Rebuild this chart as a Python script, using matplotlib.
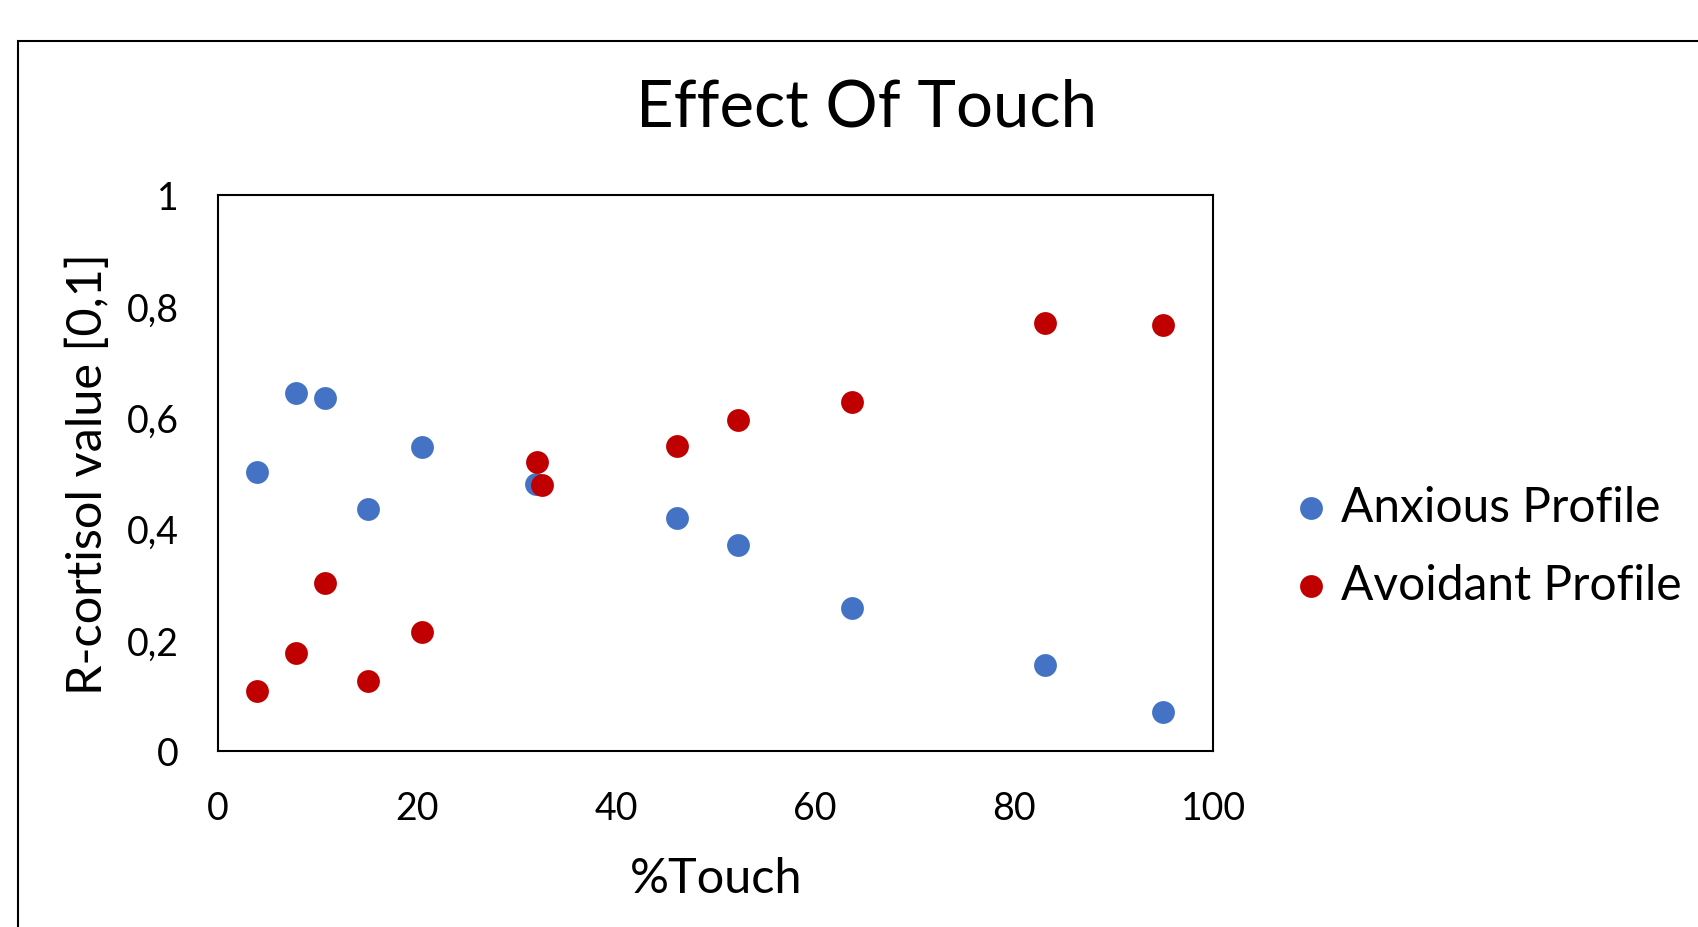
import numpy as np
import matplotlib.pyplot as plt
from matplotlib.patches import Rectangle
from matplotlib.ticker import FuncFormatter

plt.rcParams['font.family'] = ['Lato', 'DejaVu Sans']

# data
anx_x = [3.9, 7.8, 10.8, 15.1, 20.5, 31.9, 46.1, 52.2, 63.7, 83.1, 94.9]
anx_y = [0.501, 0.643, 0.635, 0.435, 0.546, 0.480, 0.419, 0.370, 0.257, 0.154, 0.070]
avo_x = [3.9, 7.8, 10.8, 15.1, 20.5, 32.0, 32.6, 46.1, 52.2, 63.7, 83.1, 94.9]
avo_y = [0.107, 0.177, 0.302, 0.125, 0.214, 0.519, 0.478, 0.548, 0.596, 0.628, 0.770, 0.766]
x_ticks = [0, 20, 40, 60, 80, 100]
y_ticks = [0, 0.2, 0.4, 0.6, 0.8, 1]

fig = plt.figure(figsize=(16.99, 9.28), dpi=100)
ax = fig.add_axes([0.1283, 0.1897, 0.5859, 0.5991])

ax.scatter(anx_x, anx_y, s=270, color='#4472C4', label='Anxious Profile', zorder=3, linewidths=0)
ax.scatter(avo_x, avo_y, s=270, color='#C00000', label='Avoidant Profile', zorder=3, linewidths=0)

ax.set_xlim(0, 100)
ax.set_ylim(0, 1)
ax.set_xticks(x_ticks)
ax.set_yticks(y_ticks)
ax.yaxis.set_major_formatter(FuncFormatter(lambda v, p: ('%g' % v).replace('.', ',')))
ax.tick_params(length=0, labelsize=27, pad=28)
for s in ax.spines.values():
    s.set_linewidth(1.5)

ax.set_xlabel('%Touch', fontsize=35, labelpad=22)
ax.set_ylabel('R-cortisol value [0,1]', fontsize=35, labelpad=12)

fig.text(0.51, 0.884, 'Effect Of Touch', fontsize=47, ha='center', va='center')

leg = ax.legend(loc='center left', bbox_to_anchor=(1.084, 0.369), frameon=False,
                fontsize=34.5, handletextpad=0.31, handlelength=0.6, labelspacing=0.71,
                borderpad=0, borderaxespad=0, markerscale=1)

# outer chart-area border
fig.patches.append(Rectangle((18 / 1699, -0.1), 1.2, 1 - 42 / 928 + 0.1,
                             transform=fig.transFigure, fill=False,
                             edgecolor='black', linewidth=1.5, clip_on=False))

fig.savefig('out.png', dpi=100)
